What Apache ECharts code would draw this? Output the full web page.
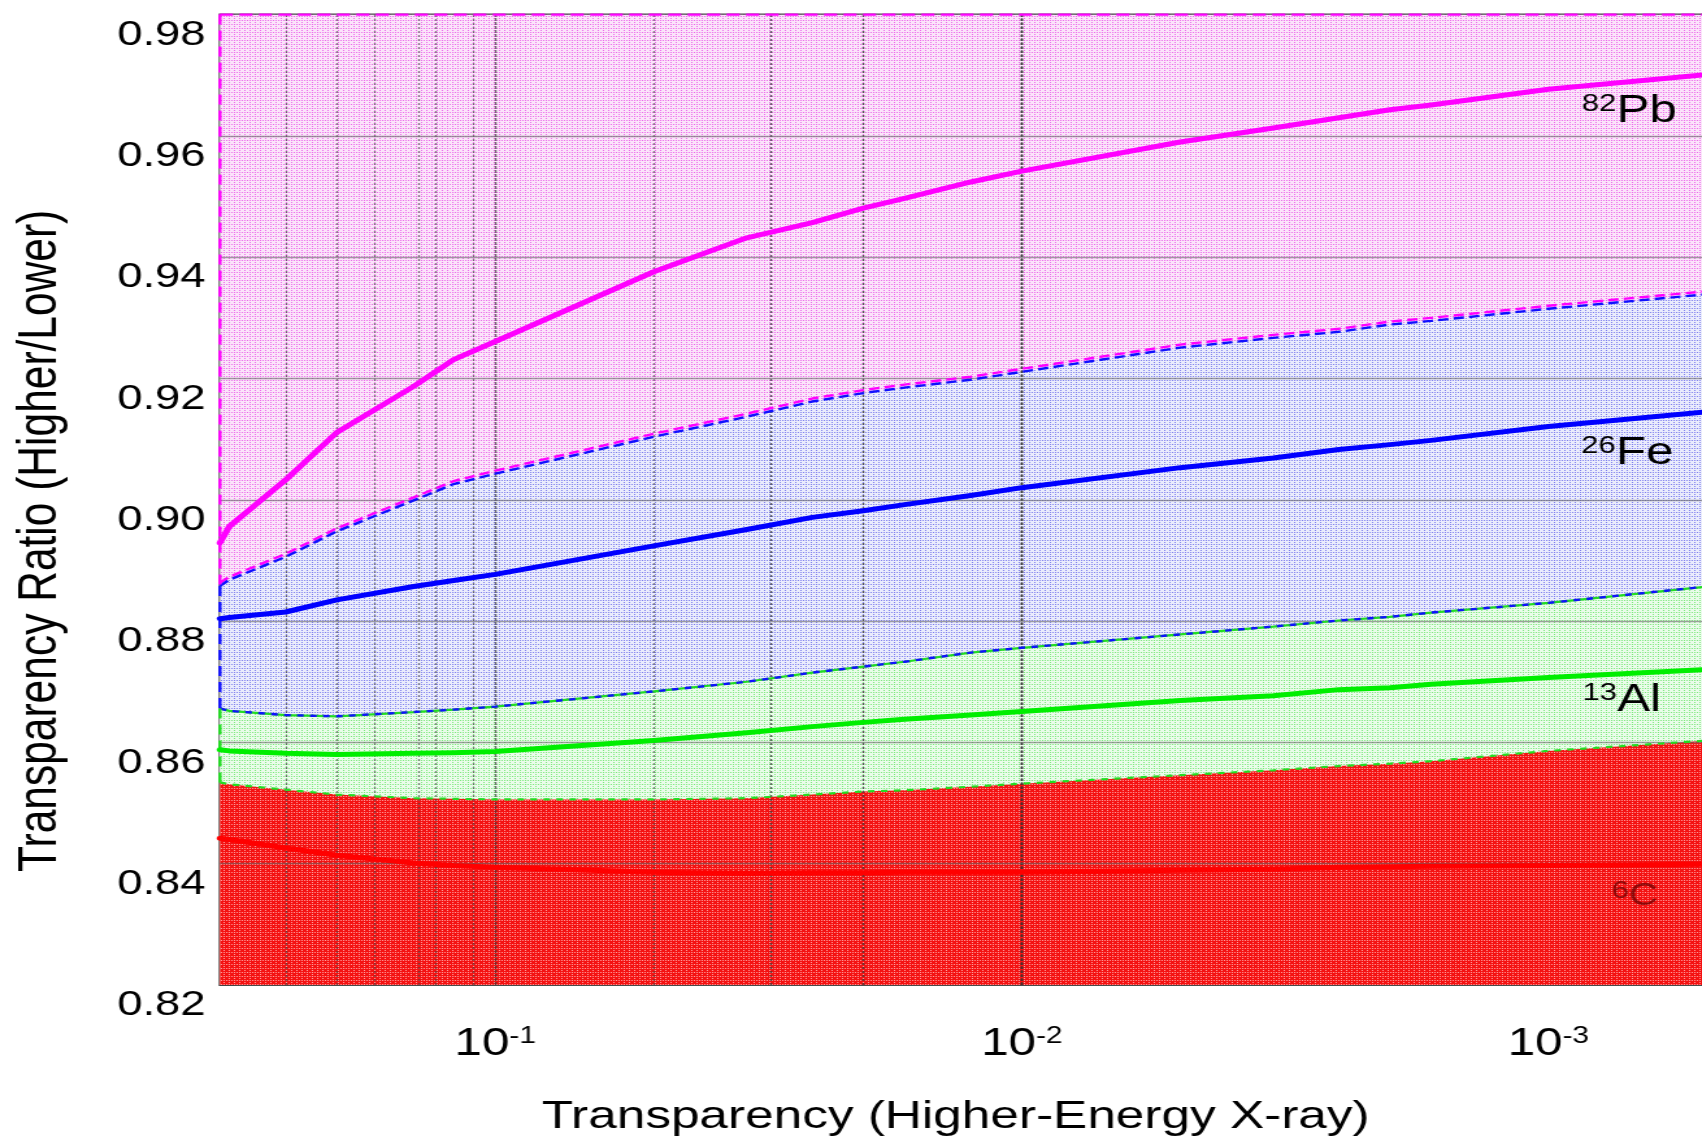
<!DOCTYPE html>
<html>
<head>
<meta charset="utf-8">
<script src="https://cdn.jsdelivr.net/npm/echarts@6/dist/echarts.min.js"></script>
<style>
  html, body { margin: 0; padding: 0; background: #ffffff; overflow: hidden; }
  #wrap { width: 1702px; height: 1141px; overflow: hidden; position: relative; background: #fff; }
  /* the figure is laid out narrow and widened horizontally, like the published plot */
  #chart { width: 1310px; height: 1141px; transform: scaleX(1.2992); transform-origin: 0 0; }
</style>
</head>
<body>
<div id="wrap"><div id="chart"></div></div>
<script>
// ---- data -------------------------------------------------------------
// transparency of the higher-energy X-ray (x, log scale, reversed)
const transparency = [0.3333, 0.32, 0.25, 0.2, 0.1429, 0.12, 0.1, 0.05, 0.0333, 0.025, 0.02,
                      0.0167, 0.0125, 0.01, 0.005, 0.00333, 0.0025, 0.002, 0.00167, 0.001, 0.0005];

// transparency ratio (higher/lower) for each material
const ratioPb = [0.8929, 0.8956, 0.9033, 0.9111, 0.9187, 0.9231, 0.9261, 0.9376, 0.9432, 0.9457, 0.9481,
                 0.9497, 0.9524, 0.9542, 0.9590, 0.9613, 0.9630, 0.9643, 0.9651, 0.9677, 0.9701];
const ratioFe = [0.8804, 0.8806, 0.8815, 0.8835, 0.8857, 0.8867, 0.8877, 0.8924, 0.8951, 0.8971, 0.8982,
                 0.8992, 0.9007, 0.9020, 0.9053, 0.9069, 0.9083, 0.9091, 0.9098, 0.9121, 0.9145];
const ratioAl = [0.8588, 0.8586, 0.8582, 0.8580, 0.8582, 0.8583, 0.8585, 0.8603, 0.8616, 0.8626, 0.8633,
                 0.8638, 0.8645, 0.8651, 0.8669, 0.8677, 0.8687, 0.8690, 0.8696, 0.8707, 0.8720];
const ratioC  = [0.8442, 0.8440, 0.8426, 0.8414, 0.8401, 0.8397, 0.8394, 0.8386, 0.8384, 0.8385, 0.8385,
                 0.8386, 0.8386, 0.8386, 0.8389, 0.8391, 0.8394, 0.8395, 0.8396, 0.8397, 0.8399];

// classification boundaries between neighbouring material bands
const edgePbFe = [0.8858, 0.8868, 0.8906, 0.8948, 0.8999, 0.9026, 0.9043, 0.9104, 0.9137, 0.9162, 0.9176,
                  0.9185, 0.9198, 0.9211, 0.9251, 0.9267, 0.9277, 0.9289, 0.9295, 0.9315, 0.9339];
const edgeFeAl = [0.8656, 0.8652, 0.8645, 0.8643, 0.8650, 0.8654, 0.8659, 0.8684, 0.8700, 0.8715, 0.8725,
                  0.8733, 0.8748, 0.8756, 0.8778, 0.8791, 0.8801, 0.8807, 0.8814, 0.8830, 0.8857];
const edgeAlC  = [0.8534, 0.8531, 0.8522, 0.8514, 0.8508, 0.8507, 0.8506, 0.8506, 0.8508, 0.8514, 0.8519,
                  0.8521, 0.8527, 0.8532, 0.8546, 0.8554, 0.8561, 0.8565, 0.8569, 0.8586, 0.8603];

// axis extents and ticks
const X_MIN = 0.0005, X_MAX = 0.3333;
const Y_MIN = 0.82, Y_MAX = 0.98, Y_STEP = 0.02;
const yTicks = [0.84, 0.86, 0.88, 0.90, 0.92, 0.94, 0.96];
const decadeTicks = [0.1, 0.01, 0.001];
const decadeStarts = [1, 0.1, 0.01, 0.001];
const subSteps = [2, 3, 4, 5, 6, 7, 8, 9];

// element labels
const elementSymbols = ['Pb', 'Fe', 'Al', 'C'];
const atomicNumbers = ['82', '26', '13', '6'];

// ---- helpers ----------------------------------------------------------
const FONT = '"Liberation Sans", Arial, Helvetica, sans-serif';
const pair = ys => transparency.map((t, i) => [t, ys[i]]);

function stipple(bg, dot) {
  const c = document.createElement('canvas');
  c.width = 4; c.height = 4;
  const g = c.getContext('2d');
  g.fillStyle = bg; g.fillRect(0, 0, 4, 4);
  g.fillStyle = dot;
  [[0, 0], [2, 0], [0, 2]].forEach(([x, y]) => g.fillRect(x, y, 1, 1));
  return { image: c, repeat: 'repeat' };
}

const minorGrid = decadeStarts.flatMap(d => subSteps.map(k => d / k))
  .filter(v => v < X_MAX && v > X_MIN);

const bandBase = { type: 'line', symbol: 'none', silent: true, z: 1, lineStyle: { width: 0, opacity: 0 } };
const band = (ys, origin, fill) => Object.assign({}, bandBase, {
  data: pair(ys), areaStyle: { origin, color: fill, opacity: 1 }
});
const curve = (ys, color) => ({
  type: 'line', data: pair(ys), symbol: 'none', silent: true, z: 8,
  lineStyle: { color, width: 5, cap: 'round', join: 'round' }
});
const seg = (pts, color, dash, width) => ({
  type: 'line', data: pts, symbol: 'none', silent: true, z: 7, clip: false,
  lineStyle: { color, width: width || 2, type: dash }
});
const gridLines = (items, style) => ({
  type: 'line', data: [], silent: true, z: 5,
  markLine: {
    z: 5, silent: true, symbol: ['none', 'none'], label: { show: false },
    lineStyle: style, emphasis: { disabled: true }, data: items
  }
});

const sup = (n, e, supLH, baseSize, baseLH) => ({
  type: 'text', z: 100, silent: true,
  style: {
    text: '{s|' + n + '}{b|' + e + '}',
    align: 'left', verticalAlign: 'top',
    rich: {
      s: { fontSize: 24, fontFamily: FONT, lineHeight: supLH, verticalAlign: 'top', fill: '#000' },
      b: { fontSize: baseSize, fontFamily: FONT, lineHeight: baseLH, verticalAlign: 'middle', fill: '#000' }
    }
  }
});

// ---- chart ------------------------------------------------------------
const chart = echarts.init(document.getElementById('chart'), null, { renderer: 'canvas' });

const labelPb = Object.assign(sup(atomicNumbers[0], elementSymbols[0], 26, 38, 40), { x: 1217.5, y: 92 });
const labelFe = Object.assign(sup(atomicNumbers[1], elementSymbols[1], 26, 38, 40), { x: 1217, y: 434 });
const labelAl = Object.assign(sup(atomicNumbers[2], elementSymbols[2], 26, 38, 40), { x: 1218, y: 681 });
const labelC = Object.assign(sup(atomicNumbers[3], elementSymbols[3], 15, 31, 34), { x: 1240.5, y: 879 });
labelC.style.rich.s.fill = 'rgba(110,0,0,0.75)';
labelC.style.rich.b.fill = 'rgba(110,0,0,0.75)';

chart.setOption({
  animation: false,
  backgroundColor: '#ffffff',
  grid: {
    left: 169.3, right: -3.8, top: 14.6, bottom: 156,
    show: true, borderColor: '#4a4a4a', borderWidth: 2, backgroundColor: '#ffffff',
    containLabel: false, outerBoundsMode: 'none'
  },
  xAxis: {
    type: 'log', logBase: 10, inverse: true, min: X_MIN, max: X_MAX,
    name: 'Transparency (Higher-Energy X-ray)', nameLocation: 'middle', nameGap: 112,
    nameTextStyle: { fontFamily: FONT, fontSize: 39.5, color: '#000', padding: [0, 12, 0, 0] },
    axisLine: { show: false },
    axisTick: { show: true, inside: true, length: 7, lineStyle: { color: '#333', width: 1.5 } },
    splitLine: { show: false }, minorTick: { show: false }, minorSplitLine: { show: false },
    axisLabel: {
      margin: 40, showMinLabel: false, showMaxLabel: false,
      formatter: v => {
        const e = Math.log10(v), r = Math.round(e);
        return Math.abs(e - r) < 1e-6 ? '{b|10}{s|' + r + '}' : '';
      },
      rich: {
        b: { fontSize: 38, fontFamily: FONT, color: '#000', lineHeight: 40, verticalAlign: 'middle' },
        s: { fontSize: 23, fontFamily: FONT, color: '#000', lineHeight: 18, verticalAlign: 'top' }
      }
    }
  },
  yAxis: {
    type: 'value', min: Y_MIN, max: Y_MAX, interval: Y_STEP,
    name: 'Transparency Ratio (Higher/Lower)', nameLocation: 'middle', nameGap: 117,
    nameTextStyle: { fontFamily: FONT, fontSize: 42.5, color: '#000', padding: [0, 82, 0, 0] },
    axisLine: { show: false },
    axisTick: { show: true, inside: true, length: 11, lineStyle: { color: '#444', width: 2 } },
    splitLine: { show: false },
    axisLabel: {
      margin: 11, fontFamily: FONT, fontSize: 35, color: '#000',
      verticalAlign: 'top', padding: [3, 0, 0, 0],
      formatter: v => v.toFixed(2)
    }
  },
  series: [
    // material bands, painted from the top band downwards
    band(edgePbFe, 'end', stipple('#fbe4fa', '#ec6cea')),
    band(edgePbFe, 'start', stipple('#eaecfc', '#8080ee')),
    band(edgeFeAl, 'start', stipple('#eafcea', '#7ee87e')),
    band(edgeAlC, 'start', stipple('#f41212', '#ff9a9a')),

    // grid lines on top of the bands
    gridLines(minorGrid.map(v => ({ xAxis: v })),
              { color: 'rgba(60,60,60,0.65)', width: 1.3, type: [2, 2] }),
    gridLines(decadeTicks.map(v => ({ xAxis: v })),
              { color: 'rgba(50,50,50,0.7)', width: 1.4, type: [3, 1] }),
    gridLines(yTicks.map(v => ({ yAxis: v })),
              { color: 'rgba(100,100,100,0.6)', width: 1.4, type: 'solid' }),

    // dashed outlines of the bands
    {
      type: 'line', data: pair(edgePbFe), symbol: 'none', silent: true, z: 7,
      lineStyle: { color: '#1010ff', width: 2.4, type: [8, 4],
                   shadowColor: '#ff00ff', shadowBlur: 0, shadowOffsetY: -3 }
    },
    {
      type: 'line', data: pair(edgeFeAl), symbol: 'none', silent: true, z: 7,
      lineStyle: { color: '#22dd22', width: 2.2, type: 'solid' }
    },
    {
      type: 'line', data: pair(edgeFeAl), symbol: 'none', silent: true, z: 7,
      lineStyle: { color: '#1010ff', width: 2.4, type: [5, 5] }
    },
    {
      type: 'line', data: pair(edgeAlC), symbol: 'none', silent: true, z: 7,
      lineStyle: { color: '#22dd22', width: 2.2, type: [5, 5] }
    },
    seg([[X_MAX, Y_MAX], [X_MIN, Y_MAX]], '#ff00ff', [10, 5], 2.4),
    seg([[X_MAX, Y_MAX], [X_MAX, edgePbFe[0]]], '#ff00ff', [10, 6], 2.4),
    seg([[X_MAX, edgePbFe[0]], [X_MAX, edgeFeAl[0]]], '#1010ff', [10, 6], 2.4),
    seg([[X_MAX, edgeFeAl[0]], [X_MAX, edgeAlC[0]]], '#22dd22', [10, 6], 2.4),

    // measured ratio curves
    curve(ratioC, '#ff0000'),
    curve(ratioAl, '#00ee00'),
    curve(ratioFe, '#0000ff'),
    curve(ratioPb, '#ff00ff')
  ],
  graphic: [labelPb, labelFe, labelAl, labelC]
});
</script>
</body>
</html>
